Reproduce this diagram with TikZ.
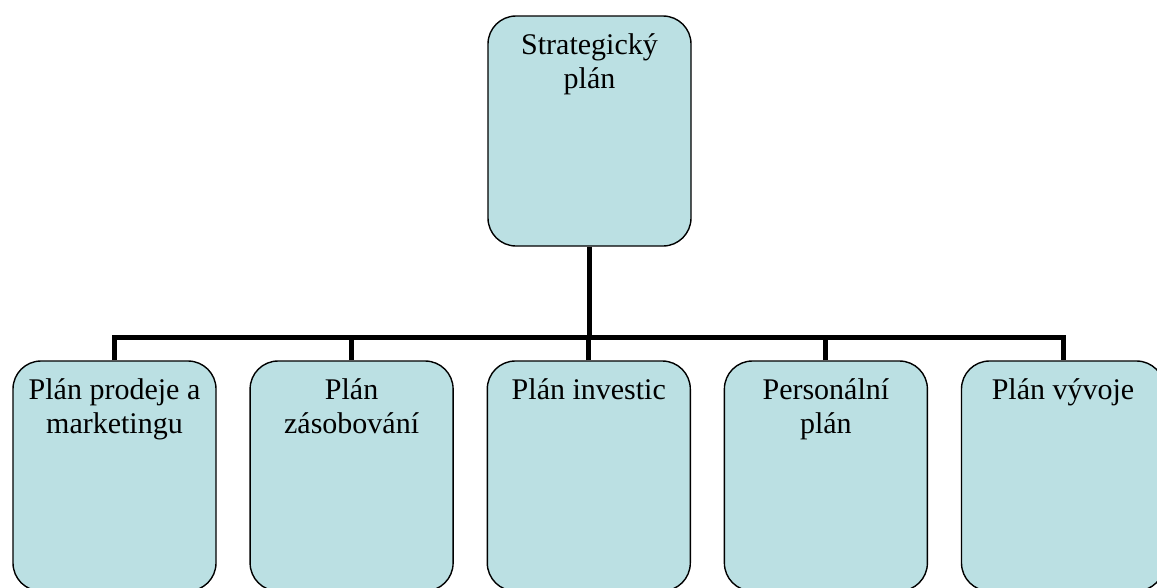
\documentclass[tikz,border=0pt]{standalone}
\usepackage{fontspec}
\setmainfont{Liberation Serif}
\definecolor{boxfill}{RGB}{187,224,227}
\begin{document}
\begin{tikzpicture}[x=1pt,y=-1pt,
  box/.style={draw=black, line width=1.4pt, fill=boxfill, rounded corners=28pt,
    inner sep=0pt, minimum width=203pt, minimum height=230pt},
  lbl/.style={anchor=north, align=center, inner sep=0pt,
    font=\fontsize{30}{34}\selectfont},
  conn/.style={draw=black, line width=5pt}]
\useasboundingbox (0,0) rectangle (1157,587);
\node[box] (top) at (589.5,131) {};
\node[box] (b1) at (114.5,476) {};
\node[box] (b2) at (351.6,476) {};
\node[box] (b3) at (588.8,476) {};
\node[box] (b4) at (825.9,476) {};
\node[box] (b5) at (1063,476) {};
\coordinate (bus) at (589.5,337);
\node[lbl] (t0) at ([yshift=-17.5pt]top.north) {\rule{0pt}{21pt}Strategický\\plán};
\node[lbl] (t1) at ([yshift=-17.5pt]b1.north) {\rule{0pt}{21pt}Plán prodeje a\\marketingu};
\node[lbl] (t2) at ([yshift=-17.5pt]b2.north) {\rule{0pt}{21pt}Plán\\zásobování};
\node[lbl] (t3) at ([yshift=-17.5pt]b3.north) {\rule{0pt}{21pt}Plán investic};
\node[lbl] (t4) at ([yshift=-17.5pt]b4.north) {\rule{0pt}{21pt}Personální\\plán};
\node[lbl] (t5) at ([yshift=-17.5pt]b5.north) {\rule{0pt}{21pt}Plán vývoje};
\draw[conn] (top.south) -- (top.south |- bus);
\draw[conn] (b1.north) -- (b1.north |- bus) -- (b5.north |- bus) -- (b5.north);
\draw[conn] (b2.north) -- (b2.north |- bus);
\draw[conn] (b3.north) -- (b3.north |- bus);
\draw[conn] (b4.north) -- (b4.north |- bus);
\end{tikzpicture}
\end{document}
